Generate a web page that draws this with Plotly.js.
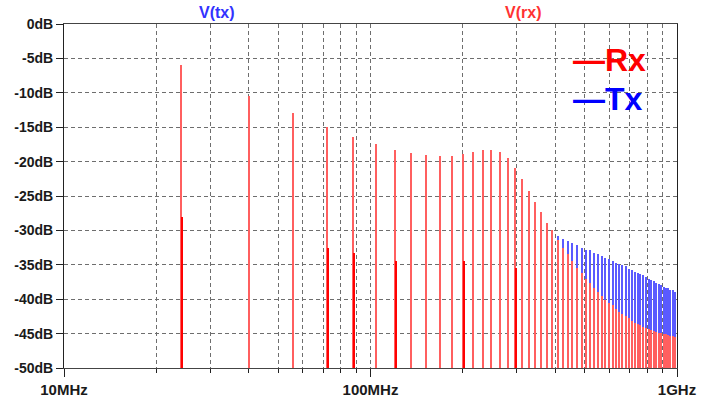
<!DOCTYPE html>
<html>
<head>
<meta charset="utf-8">
<script src="https://cdn.plot.ly/plotly-3.0.1.min.js"></script>
<style>
  html, body { margin: 0; padding: 0; background: #fff; }
  #plot { width: 712px; height: 400px; }
  /* pixel-snapped spectral lines so the upper trace fully covers the lower one */
  #plot .scatterlayer path.js-line { shape-rendering: crispEdges; }
</style>
</head>
<body>
<div id="plot"></div>
<script>
// FFT of the transmitted and received waveforms: odd harmonics of an 8 MHz clock (MHz)
const harmonicFreq = [
  24, 40, 56, 72, 88, 104, 120, 136, 152, 168, 184, 200, 216, 232, 248, 264,
  280, 296, 312, 328, 344, 360, 376, 392, 408, 424, 440, 456, 472, 488, 504,
  520, 536, 552, 568, 584, 600, 616, 632, 648, 664, 680, 696, 712, 728, 744,
  760, 776, 792, 808, 824, 840, 856, 872, 888, 904, 920, 936, 952, 968, 984
];

// Received spectrum, V(rx), peak level per harmonic (dB)
const rxLevel = [
  -6.0, -10.4, -13.0, -15.0, -16.4, -17.4, -18.3, -18.8, -19.0, -19.2, -19.2,
  -18.85, -18.65, -18.3, -18.3, -18.65, -19.5, -21.0, -22.6, -24.3, -25.9,
  -27.3, -28.9, -30.0, -31.4, -32.5, -33.5, -34.5, -35.4, -36.2, -37.1, -37.7,
  -38.4, -38.9, -39.5, -40.1, -40.5, -40.9, -41.4, -41.8, -42.2, -42.4, -42.7,
  -43.1, -43.4, -43.6, -43.8, -44.0, -44.2, -44.4, -44.5, -44.6, -44.8, -44.9,
  -44.9, -45.0, -45.1, -45.2, -45.3, -45.3, -45.5
];

// Transmitted spectrum, V(tx), peak level per harmonic (dB)
const txLevel = [
  -6.0, -10.4, -13.0, -15.0, -16.4, -17.4, -18.3, -18.8, -19.0, -19.2, -19.2,
  -18.85, -18.65, -18.3, -18.3, -18.65, -19.5, -21.0, -22.6, -24.3, -25.9,
  -27.3, -28.9, -30.0, -30.8, -31.2, -31.5, -31.8, -32.1, -32.5, -32.8, -32.9,
  -33.3, -33.5, -33.7, -34.0, -34.2, -34.5, -34.7, -34.9, -35.1, -35.2, -35.6,
  -35.8, -36.0, -36.2, -36.4, -36.5, -36.8, -37.0, -37.2, -37.4, -37.6, -37.8,
  -38.0, -38.2, -38.3, -38.4, -38.6, -38.7, -38.9
];

// Neighbouring-bin leakage spikes in V(rx)
const rxSideFreq  = [24.2, 72.5, 88.6, 120.8, 201.5, 298];
const rxSideLevel = [-28.0, -32.6, -33.3, -34.4, -34.5, -35.5];

// Axis tick labels
const yTickVals = [0, -5, -10, -15, -20, -25, -30, -35, -40, -45, -50];
const yTickText = ['0dB', '-5dB', '-10dB', '-15dB', '-20dB', '-25dB', '-30dB', '-35dB', '-40dB', '-45dB', '-50dB'];
const xTickVals = [10, 100, 1000];
const xTickText = ['10MHz', '100MHz', '1GHz'];
const xMinorVals = [20, 30, 40, 50, 60, 70, 80, 90, 200, 300, 400, 500, 600, 700, 800, 900];

const FLOOR = -80; // spikes start below the visible range

// Turn a list of spectral peaks into vertical spikes (gaps between them)
function spikes(freqs, levels) {
  const x = [], y = [];
  for (let i = 0; i < freqs.length; i++) {
    x.push(freqs[i], freqs[i], null);
    y.push(FLOOR, levels[i], null);
  }
  return { x, y };
}

const tx = spikes(harmonicFreq, txLevel);
const rx = spikes(harmonicFreq, rxLevel);
const rxSide = spikes(rxSideFreq, rxSideLevel);

const traces = [
  { x: tx.x, y: tx.y, type: 'scatter', mode: 'lines', name: 'V(tx)',
    line: { color: 'rgb(90,90,255)', width: 2 }, hoverinfo: 'skip' },
  { x: rx.x, y: rx.y, type: 'scatter', mode: 'lines', name: 'V(rx)',
    line: { color: 'rgb(255,95,95)', width: 2 }, hoverinfo: 'skip' },
  { x: rxSide.x, y: rxSide.y, type: 'scatter', mode: 'lines', name: 'V(rx) leakage',
    line: { color: 'rgb(255,0,0)', width: 2 }, hoverinfo: 'skip' }
];

const labelFont = { family: 'Liberation Sans, Arial, sans-serif', size: 14, color: '#1a1a1a', weight: 700 };
const gridDash = '4px,3px';

const layout = {
  width: 712, height: 400,
  margin: { l: 64, r: 35, t: 24, b: 32 },
  paper_bgcolor: '#fff', plot_bgcolor: '#fff',
  showlegend: false,
  xaxis: {
    type: 'log', range: [1, 3],
    tickmode: 'array', tickvals: xTickVals, ticktext: xTickText,
    ticks: 'outside', ticklen: 8, tickcolor: '#222', tickwidth: 1,
    tickfont: { ...labelFont, size: 15 },
    showgrid: true, gridcolor: '#6e6e6e', griddash: gridDash, gridwidth: 1,
    minor: { tickmode: 'array', tickvals: xMinorVals, ticks: 'outside', ticklen: 4,
             tickcolor: '#222', showgrid: true, gridcolor: '#6e6e6e', griddash: gridDash, gridwidth: 1 },
    showline: true, linecolor: '#444', linewidth: 1, mirror: true,
    zeroline: false, fixedrange: true
  },
  yaxis: {
    range: [-50, 0],
    tickmode: 'array', tickvals: yTickVals, ticktext: yTickText,
    ticks: 'outside', ticklen: 7, tickcolor: '#222', tickwidth: 1,
    tickfont: labelFont,
    showgrid: true, gridcolor: '#6e6e6e', griddash: gridDash, gridwidth: 1,
    showline: true, linecolor: '#222', linewidth: 1, mirror: true,
    zeroline: false, fixedrange: true
  },
  annotations: [
    { text: '<b>V(tx)</b>', xref: 'paper', yref: 'paper', x: (217 - 64) / 613, y: 1,
      xanchor: 'center', yanchor: 'bottom', yshift: 1, showarrow: false,
      font: { family: 'Liberation Sans, Arial, sans-serif', size: 16, color: 'rgb(50,50,255)' } },
    { text: '<b>V(rx)</b>', xref: 'paper', yref: 'paper', x: (523 - 64) / 613, y: 1,
      xanchor: 'center', yanchor: 'bottom', yshift: 1, showarrow: false,
      font: { family: 'Liberation Sans, Arial, sans-serif', size: 16, color: 'rgb(255,50,50)' } },
    { text: '<b>—Rx</b>', xref: 'paper', yref: 'paper', x: (571 - 64) / 613, y: (368 - 60) / 344,
      xanchor: 'left', yanchor: 'middle', showarrow: false,
      font: { family: 'Liberation Sans, Arial, sans-serif', size: 32, color: 'rgb(255,0,0)' } },
    { text: '<b>—Tx</b>', xref: 'paper', yref: 'paper', x: (571 - 64) / 613, y: (368 - 99) / 344,
      xanchor: 'left', yanchor: 'middle', showarrow: false,
      font: { family: 'Liberation Sans, Arial, sans-serif', size: 32, color: 'rgb(0,0,255)' } }
  ]
};

Plotly.newPlot('plot', traces, layout, { displayModeBar: false, staticPlot: true });
</script>
</body>
</html>
